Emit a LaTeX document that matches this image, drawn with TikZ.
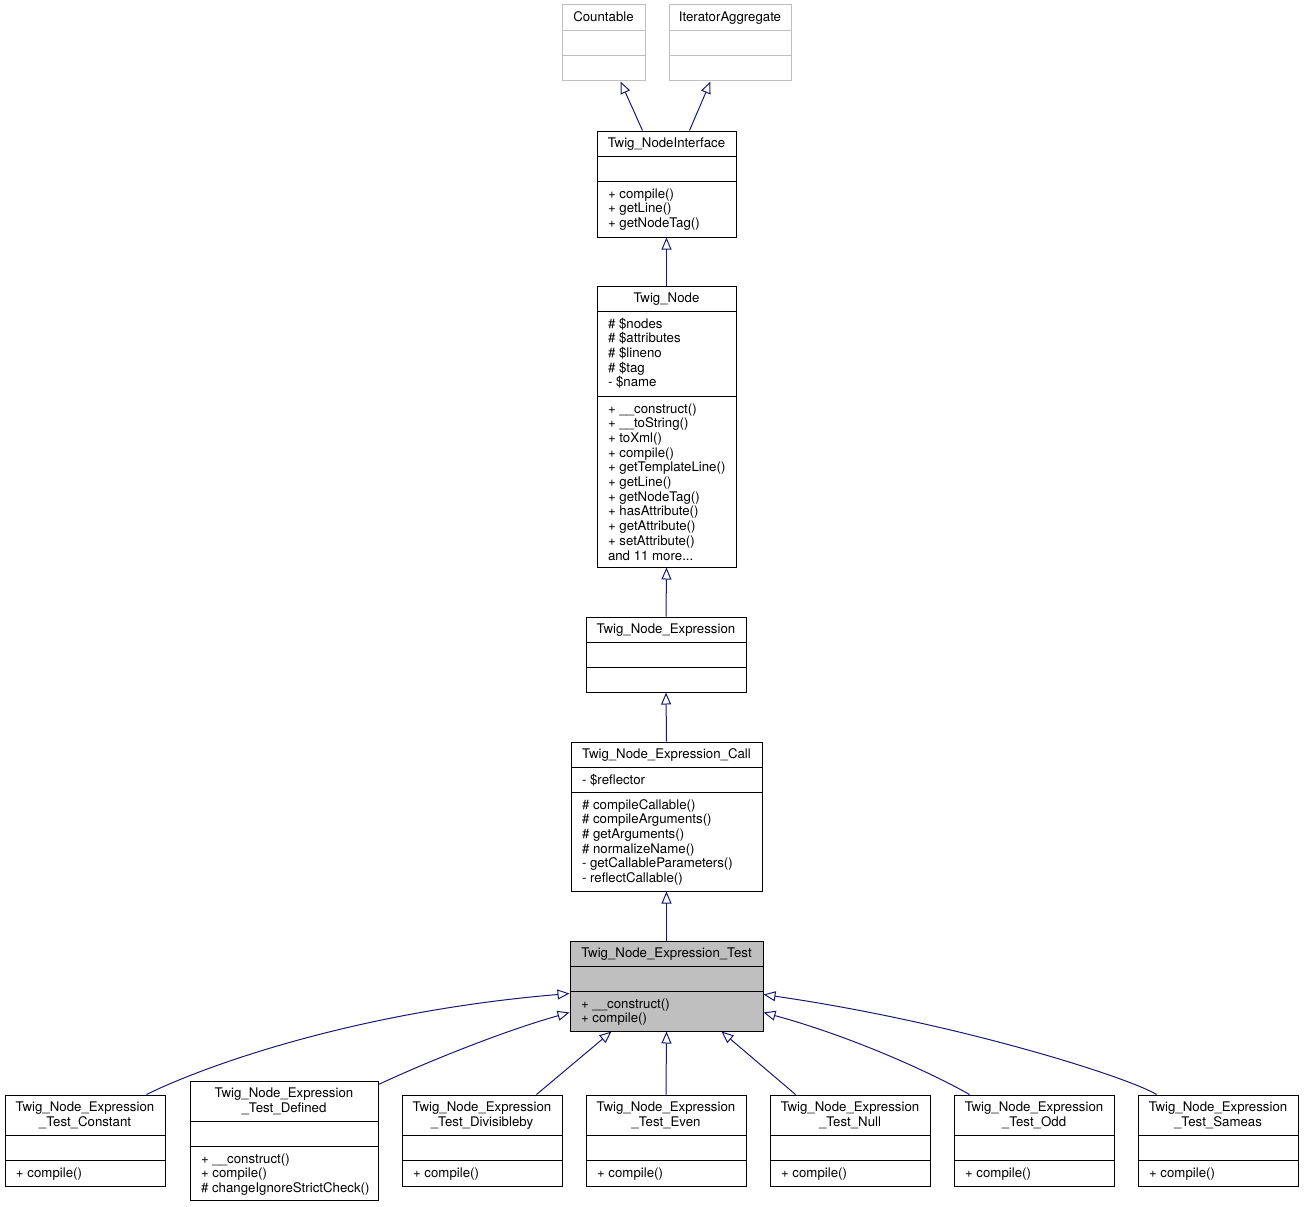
\documentclass[tikz,border=0pt]{standalone}
\usepackage{fontspec}
\setmainfont{TeX Gyre Heros}
\usetikzlibrary{arrows.meta,fit}
\definecolor{edgeblue}{HTML}{191970}
\definecolor{boxgray}{HTML}{BFBFBF}
\tikzset{
  cls/.style={draw=black, line width=1pt, inner sep=0pt},
  extcls/.style={draw=boxgray, line width=1pt, inner sep=0pt},
  curcls/.style={draw=black, fill=boxgray, line width=1pt, inner sep=0pt},
  txt/.style={inner sep=0pt, outer sep=0pt, align=left, font=\fontsize{13.25}{14.7}\selectfont},
  ttl/.style={inner sep=0pt, outer sep=0pt, align=center, font=\fontsize{13.25}{14.7}\selectfont},
  inh/.style={draw=edgeblue, line width=1pt, -{Triangle[open,length=12pt,width=10pt]}},
}
% style, name, left, top, right, bottom, sep1, sep2
\newcommand\clsbox[8]{%
  \node[#1, fit={(#3,#4) (#5,#6)}] (#2) {};
  \draw[#1] (#3,#7) -- (#5,#7) (#3,#8) -- (#5,#8);}
% name, x, baseline, text
\newcommand\ttlat[4]{\node[ttl, anchor=north] (#1) at (#2,#3-10.29) {\strut #4};}
\newcommand\txtat[4]{\node[txt, anchor=north west] (#1) at (#2,#3-8.79) {\strut #4};}
\begin{document}
\begin{tikzpicture}[x=1pt,y=-1pt]
\useasboundingbox (0,0) rectangle (1304,1207);

% external interfaces
\clsbox{extcls}{cnt}{562}{5}{645}{81}{31}{56}
\ttlat{cntT}{603.5}{21.5}{Countable}
\clsbox{extcls}{ita}{669}{5}{791}{81}{31}{56}
\ttlat{itaT}{730}{21.5}{IteratorAggregate}

% Twig_NodeInterface
\clsbox{cls}{ni}{597}{131}{736}{237}{156}{181}
\ttlat{niT}{666.5}{147.5}{Twig\_NodeInterface}
\txtat{niM}{608}{196.5}{+ compile()\\+ getLine()\\+ getNodeTag()}

% Twig_Node
\clsbox{cls}{nd}{597}{286}{736}{567}{311}{396}
\ttlat{ndT}{666.5}{302.5}{Twig\_Node}
\txtat{ndA}{608}{326.5}{\# \$nodes\\\# \$attributes\\\# \$lineno\\\# \$tag\\- \$name}
\txtat{ndM}{608}{411.5}{+ \_\_construct()\\+ \_\_toString()\\+ toXml()\\+ compile()\\+ getTemplateLine()\\+ getLine()\\+ getNodeTag()\\+ hasAttribute()\\+ getAttribute()\\+ setAttribute()\\and 11 more...}

% Twig_Node_Expression
\clsbox{cls}{ex}{586}{617}{746}{692}{642}{667}
\ttlat{exT}{666}{633.5}{Twig\_Node\_Expression}

% Twig_Node_Expression_Call
\clsbox{cls}{call}{571}{742}{762}{891}{767}{792}
\ttlat{callT}{666.5}{758.5}{Twig\_Node\_Expression\_Call}
\txtat{callA}{582}{782.5}{- \$reflector}
\txtat{callM}{582}{807.5}{\# compileCallable()\\\# compileArguments()\\\# getArguments()\\\# normalizeName()\\- getCallableParameters()\\- reflectCallable()}

% Twig_Node_Expression_Test
\clsbox{curcls}{test}{570}{941}{763}{1031}{966}{991}
\ttlat{testT}{666.5}{957.5}{Twig\_Node\_Expression\_Test}
\txtat{testM}{581}{1006.5}{+ \_\_construct()\\+ compile()}

% subclasses
\clsbox{cls}{const}{5}{1095}{165}{1186}{1135}{1160}
\ttlat{constT}{85}{1111.5}{Twig\_Node\_Expression\\\_Test\_Constant}
\txtat{constM}{16}{1175.5}{+ compile()}

\clsbox{cls}{def}{190}{1081}{378}{1200}{1121}{1146}
\ttlat{defT}{284}{1097.5}{Twig\_Node\_Expression\\\_Test\_Defined}
\txtat{defM}{201}{1161.5}{+ \_\_construct()\\+ compile()\\\# changeIgnoreStrictCheck()}

\clsbox{cls}{div}{402}{1095}{562}{1186}{1135}{1160}
\ttlat{divT}{482}{1111.5}{Twig\_Node\_Expression\\\_Test\_Divisibleby}
\txtat{divM}{413}{1175.5}{+ compile()}

\clsbox{cls}{even}{586}{1095}{746}{1186}{1135}{1160}
\ttlat{evenT}{666}{1111.5}{Twig\_Node\_Expression\\\_Test\_Even}
\txtat{evenM}{597}{1175.5}{+ compile()}

\clsbox{cls}{null}{770}{1095}{930}{1186}{1135}{1160}
\ttlat{nullT}{850}{1111.5}{Twig\_Node\_Expression\\\_Test\_Null}
\txtat{nullM}{781}{1175.5}{+ compile()}

\clsbox{cls}{odd}{954}{1095}{1114}{1186}{1135}{1160}
\ttlat{oddT}{1034}{1111.5}{Twig\_Node\_Expression\\\_Test\_Odd}
\txtat{oddM}{965}{1175.5}{+ compile()}

\clsbox{cls}{same}{1138}{1095}{1298}{1186}{1135}{1160}
\ttlat{sameT}{1218}{1111.5}{Twig\_Node\_Expression\\\_Test\_Sameas}
\txtat{sameM}{1149}{1175.5}{+ compile()}

% inheritance connectors
\draw[inh] ([xshift=46pt]ni.north west) -- ([xshift=59pt]cnt.south west);
\draw[inh] ([xshift=93pt]ni.north west) -- ([xshift=42pt]ita.south west);
\draw[inh] (nd.north) -- (ni.south);
\draw[inh] (ex.north) -- (nd.south);
\draw[inh] (call.north) -- (ex.south);
\draw[inh] (test.north) -- (call.south);

\draw[inh] ([xshift=142pt]const.north west) .. controls (200,1068) and (350,1012) .. ([yshift=-53pt]test.north west);
\draw[inh] ([yshift=-4pt]def.north east) .. controls (420,1065) and (500,1032) .. ([yshift=-72pt]test.north west);
\draw[inh] ([xshift=135pt]div.north west) -- ([xshift=42pt]test.south west);
\draw[inh] (even.north) -- (test.south);
\draw[inh] ([xshift=26pt]null.north west) -- ([xshift=-42pt]test.south east);
\draw[inh] ([xshift=16pt]odd.north west) .. controls (930,1072) and (850,1036) .. ([yshift=-72pt]test.north east);
\draw[inh] ([xshift=19pt]same.north west) .. controls (1130,1078) and (960,1023) .. ([yshift=-54pt]test.north east);
\end{tikzpicture}
\end{document}
